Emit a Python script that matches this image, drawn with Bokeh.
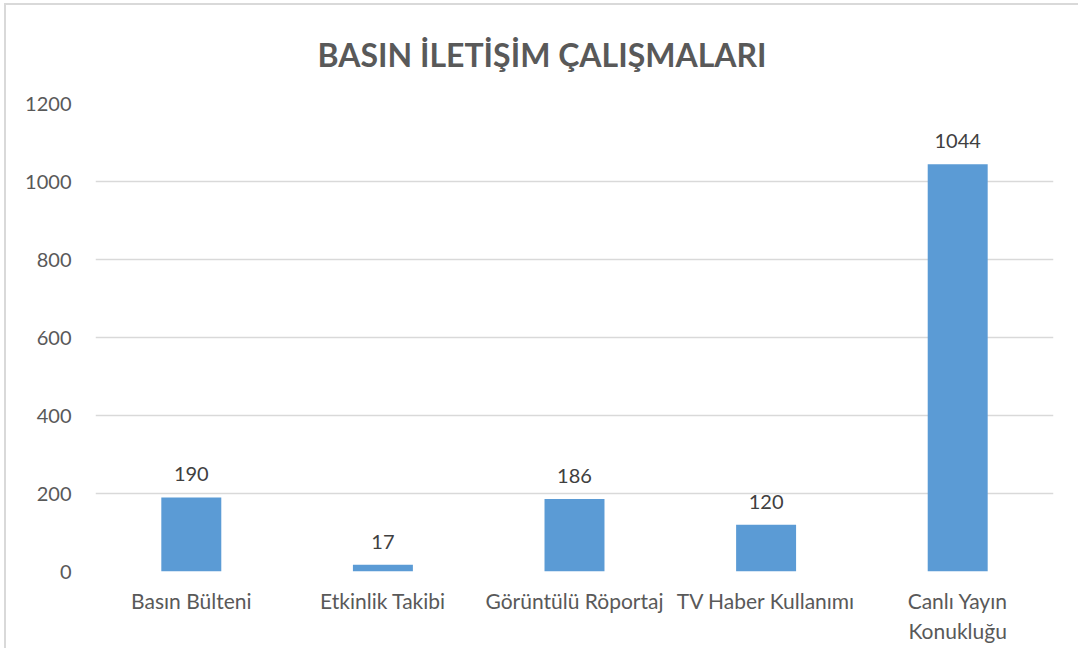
from bokeh.plotting import figure
from bokeh.models import ColumnDataSource, FixedTicker, Range1d, FactorRange
from bokeh.embed import file_html
from bokeh.resources import INLINE
from bokeh.core.properties import value

categories = ["Basın Bülteni", "Etkinlik Takibi", "Görüntülü Röportaj", "TV Haber Kullanımı", "Canlı Yayın Konukluğu"]
values = [190, 17, 186, 120, 1044]
y_ticks = [0, 200, 400, 600, 800, 1000, 1200]
title_text = "BASIN İLETİŞİM ÇALIŞMALARI"

FONT = "Lato"
factors = [c.replace("Canlı Yayın ", "Canlı Yayın\n") for c in categories]
src = ColumnDataSource(dict(cat=factors, val=values, lab=[str(v) for v in values]))

p = figure(width=1074, height=645, x_range=FactorRange(*factors), y_range=Range1d(0, 1200),
           output_backend="svg", toolbar_location=None,
           min_border_left=89, min_border_right=27, min_border_top=98, min_border_bottom=79)
p.styles = {"border-left": "2px solid #D9D9D9", "border-top": "2px solid #D9D9D9",
            "margin-left": "4px", "margin-top": "3px"}

p.title.text = title_text
p.title.align = "left"
p.title.offset = 222
p.title.text_font = FONT
p.title.text_font_size = "32px"
p.title.text_font_style = "bold"
p.title.text_color = "#595959"
p.title.vertical_align = "top"
p.title.standoff = 56

p.vbar(x="cat", top="val", width=0.313, source=src, color="#5B9BD5", line_color=None)
p.text(x="cat", y="val", text="lab", source=src, text_align="center", text_baseline="bottom",
       y_offset=-16, text_font=value(FONT), text_font_size="20px", text_color="#404040")

p.outline_line_color = None
p.xgrid.grid_line_color = None
p.ygrid.grid_line_color = "#D9D9D9"
p.ygrid.grid_line_width = 1.5
p.yaxis.ticker = FixedTicker(ticks=y_ticks)
p.yaxis.axis_line_color = None
p.yaxis.major_tick_line_color = None
p.yaxis.minor_tick_line_color = None
p.yaxis.major_label_standoff = 18
p.yaxis.major_label_text_font = FONT
p.yaxis.major_label_text_font_size = "20px"
p.yaxis.major_label_text_color = "#595959"

p.xaxis.axis_line_color = None
p.xaxis.major_tick_line_color = None
p.xaxis.minor_tick_line_color = None
p.xaxis.major_label_standoff = 10
p.xaxis.major_label_text_font = FONT
p.xaxis.major_label_text_font_size = "21px"
p.xaxis.major_label_text_color = "#595959"

p.background_fill_color = "white"
p.border_fill_color = "white"

open("out.html", "w").write(file_html(p, INLINE))
